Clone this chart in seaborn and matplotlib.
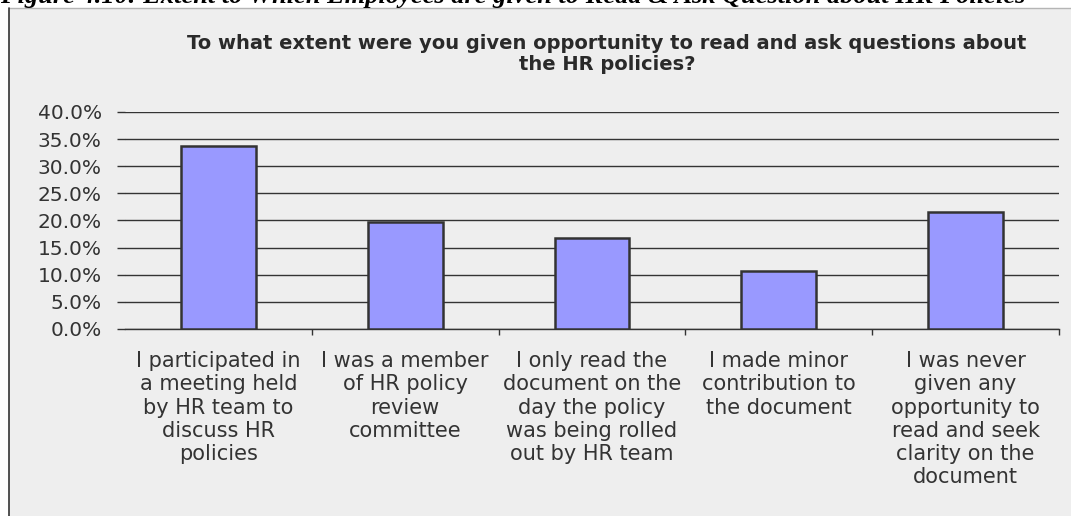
import matplotlib
matplotlib.use("Agg")
import matplotlib.pyplot as plt
import seaborn as sns
import pandas as pd
from matplotlib.patches import Rectangle
from matplotlib.lines import Line2D
from matplotlib.ticker import FixedLocator, FuncFormatter

# Survey responses and share of respondents (%)
responses = [
    "I participated in\na meeting held\nby HR team to\ndiscuss HR\npolicies",
    "I was a member\nof HR policy\nreview\ncommittee",
    "I only read the\ndocument on the\nday the policy\nwas being rolled\nout by HR team",
    "I made minor\ncontribution to\nthe document",
    "I was never\ngiven any\nopportunity to\nread and seek\nclarity on the\ndocument",
]
shares = [33.7, 19.8, 16.8, 10.6, 21.5]
y_ticks = [0, 5, 10, 15, 20, 25, 30, 35, 40]

chart_title = ("To what extent were you given opportunity to read and ask questions about\n"
               "the HR policies?")
caption = "Figure 4.10: Extent to Which Employees are given to Read & Ask Question about HR Policies"

df = pd.DataFrame({"response": responses, "share": shares})

sns.set_theme(style="white")
plt.rcParams["font.family"] = ["DejaVu Sans"]

W, H = 1071, 516
fig = plt.figure(figsize=(W / 100, H / 100), dpi=100)
fig.patch.set_facecolor("white")

# grey chart panel with its border
fig.add_artist(Rectangle((9 / W, -0.01), 1.0, 1 - 8 / H + 0.01, transform=fig.transFigure,
                         facecolor="#EEEEEE", edgecolor="none", zorder=-2))
fig.add_artist(Line2D([9 / W, 1.0], [1 - 8 / H, 1 - 8 / H], transform=fig.transFigure,
                      color="#B5B5B5", lw=1.0, zorder=-1))
fig.add_artist(Line2D([9 / W, 9 / W], [0, 1 - 8 / H], transform=fig.transFigure,
                      color="#333333", lw=1.2, zorder=-1))

# caption line of the page, running off the top edge
fig.text(0.0, 1 - 3 / H, caption, ha="left", va="baseline", fontsize=19,
         family="Liberation Serif", weight="bold", style="italic", color="black")

ax = fig.add_axes([125 / W, (H - 329) / H, 934 / W, (329 - 112) / H])
ax.set_facecolor("none")

sns.barplot(data=df, x="response", y="share", ax=ax, color="#9999FF",
            width=0.4, edgecolor="#333333", linewidth=1.8, saturation=1, zorder=3)

ax.set_ylim(0, 40)
ax.set_xlim(-0.5, len(responses) - 0.5)
ax.yaxis.set_major_locator(FixedLocator(y_ticks))
ax.yaxis.set_major_formatter(FuncFormatter(lambda v, p: f"{v:.1f}%"))
ax.yaxis.grid(True, color="#333333", lw=1.0, zorder=0)
ax.set_axisbelow(True)

for side in ("left", "top", "right"):
    ax.spines[side].set_visible(False)
ax.spines["bottom"].set_color("#333333")
ax.spines["bottom"].set_linewidth(1.0)

ax.tick_params(axis="y", which="major", length=5.8, width=1.0, color="#333333",
               pad=11, labelsize=14.5, labelcolor="#333333", left=True, direction="out")
ax.tick_params(axis="x", which="major", length=0, pad=16, labelsize=15,
               labelcolor="#333333")
ax.set_xticks(range(len(responses)))
ax.set_xticklabels(responses, linespacing=1.2, ha="center", va="top")
ax.set_xticks([i + 0.5 for i in range(len(responses))], minor=True)
ax.tick_params(axis="x", which="minor", length=4.3, width=1.0, color="#333333",
               bottom=True, direction="out")

ax.set_xlabel("")
ax.set_ylabel("")

fig.text(607 / W, 1 - 34 / H, chart_title, ha="center", va="top", fontsize=14,
         weight="bold", color="#2A2A2A", linespacing=1.15, multialignment="center")

fig.savefig("out.png", dpi=100, facecolor=fig.get_facecolor())
